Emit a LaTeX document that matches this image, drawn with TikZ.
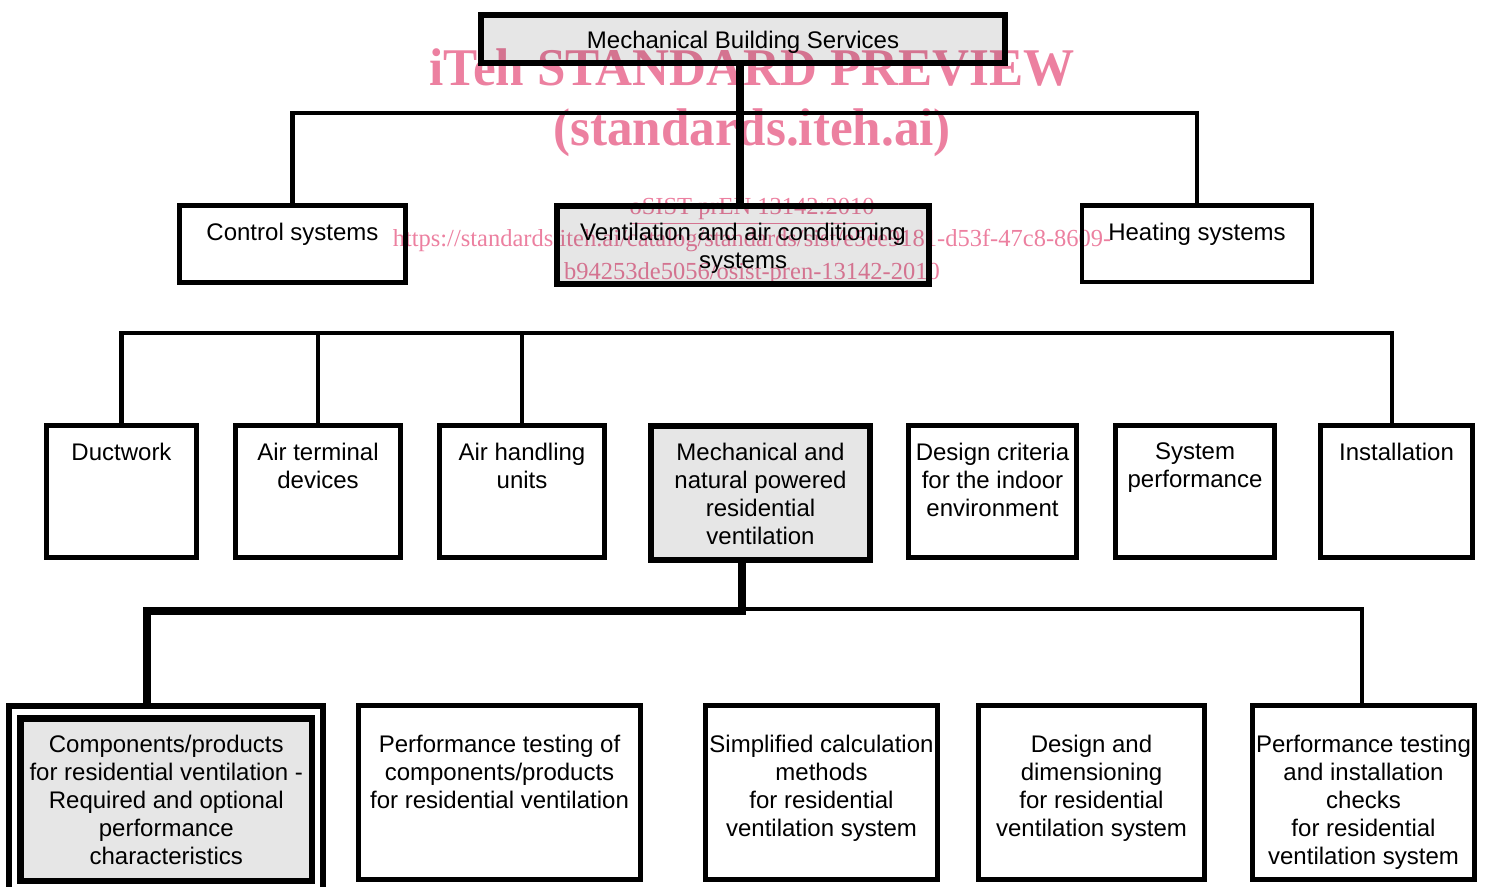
\documentclass[tikz,border=0pt]{standalone}
\usepackage{fontspec}
\usepackage{graphicx}
\setmainfont{Liberation Sans}
\newfontfamily\wmfont{Liberation Serif}
\usetikzlibrary{calc,backgrounds}
\definecolor{boxgray}{RGB}{230,230,230}
\definecolor{wmpink}{RGB}{236,128,160}
\tikzset{
 thinbox/.style={draw, line width=2.25pt, inner sep=0, outer sep=0, fill=white},
 thickbox/.style={draw, line width=3pt, inner sep=0, outer sep=0, fill=boxgray},
 thinline/.style={line width=2.1pt},
 thickline/.style={line width=4.3pt},
 boxtext/.style={inner sep=0, anchor=north, align=center, font=\fontsize{12}{14}\selectfont},
 wmbig/.style={text=wmpink, inner sep=0, anchor=base, font=\wmfont\bfseries\fontsize{26.5}{30}\selectfont},
 wmsmall/.style={text=wmpink, inner sep=0, anchor=base, font=\wmfont\fontsize{12.25}{15}\selectfont},
}
\begin{document}
\begin{tikzpicture}[x=0.5pt,y=-0.5pt]
\useasboundingbox (0,0) rectangle (1487,887);
\clip (0,0) rectangle (1487,887);

% level 1
\node[thickbox, minimum width=262pt, minimum height=24pt] (top) at (743,39) {};
\node[boxtext] (toptxt) at ($(top.north)+(0,15.5)$) {Mechanical Building Services};

% level 2
\node[thinbox, minimum width=113pt, minimum height=38.5pt] (ctrl) at (292.5,244) {};
\node[boxtext] (ctrltxt) at ($(ctrl.north)+(0,17.2)$) {Control systems};
\node[thickbox, minimum width=186pt, minimum height=39pt] (vent) at (743,245) {};
\node[boxtext] (venttxt) at ($(vent.north)+(0,16.7)$) {Ventilation and air conditioning\\systems};
\node[thinbox, minimum width=115pt, minimum height=38.25pt] (heat) at (1197,243.75) {};
\node[boxtext] (heattxt) at ($(heat.north)+(0,17.2)$) {Heating systems};

% level 3
\node[thinbox, minimum width=75pt, minimum height=66pt] (duct) at (121.5,491.5) {};
\node[boxtext] (ducttxt) at ($(duct.north)+(0,17.2)$) {Ductwork};
\node[thinbox, minimum width=82.5pt, minimum height=66pt] (airterm) at (318,491.5) {};
\node[boxtext] (airtermtxt) at ($(airterm.north)+(0,17.2)$) {Air terminal\\devices};
\node[thinbox, minimum width=82.5pt, minimum height=66pt] (airhand) at (522,491.5) {};
\node[boxtext] (airhandtxt) at ($(airhand.north)+(0,17.2)$) {Air handling\\units};
\node[thickbox, minimum width=109.5pt, minimum height=67pt] (mech) at (760.5,493) {};
\node[boxtext] (mechtxt) at ($(mech.north)+(0,16.7)$) {Mechanical and\\natural powered\\residential\\ventilation};
\node[thinbox, minimum width=84pt, minimum height=66pt] (dcrit) at (992.5,491.5) {};
\node[boxtext] (dcrittxt) at ($(dcrit.north)+(0,17.2)$) {Design criteria\\for the indoor\\environment};
\node[thinbox, minimum width=79.5pt, minimum height=66pt] (sysperf) at (1195,491.5) {};
\node[boxtext] (sysperftxt) at ($(sysperf.north)+(0,17.2)$) {System\\performance};
\node[thinbox, minimum width=76pt, minimum height=66pt] (install) at (1396.5,491.5) {};
\node[boxtext] (installtxt) at ($(install.north)+(0,17.2)$) {Installation};

% level 4
\node[draw, line width=3pt, inner sep=0, outer sep=0, fill=white, minimum width=157pt, minimum height=147pt] (compouter) at (166,853) {};
\node[thickbox, line width=3.25pt, minimum width=145.75pt, minimum height=81.25pt] (compinner) at (166.25,799.75) {};
\node[boxtext] (comptxt) at ($(compinner.north)+(0,16.2)$) {Components/products\\for residential ventilation -\\Required and optional\\performance\\characteristics};
\node[thinbox, minimum width=141pt, minimum height=87pt] (perftest) at (499.5,792.5) {};
\node[boxtext] (perftesttxt) at ($(perftest.north)+(0,29.2)$) {Performance testing of\\components/products\\for residential ventilation};
\node[thinbox, minimum width=116pt, minimum height=87pt] (simpl) at (821.5,792.5) {};
\node[boxtext] (simpltxt) at ($(simpl.north)+(0,29.2)$) {Simplified calculation\\methods\\for residential\\ventilation system};
\node[thinbox, minimum width=113pt, minimum height=87pt] (designdim) at (1091.5,792.5) {};
\node[boxtext] (designdimtxt) at ($(designdim.north)+(0,29.2)$) {Design and\\dimensioning\\for residential\\ventilation system};
\node[thinbox, minimum width=111pt, minimum height=87pt] (perfinst) at (1363.5,792.5) {};
\node[boxtext] (perfinsttxt) at ($(perfinst.north)+(0,29.2)$) {Performance testing\\and installation\\checks\\for residential\\ventilation system};

% connectors
\coordinate (bus1) at (743,113);
\coordinate (bus2) at (745,333);
\coordinate (bus3) at (742,611);
\coordinate (bus3b) at (742,609);
\coordinate (compin) at (147,706);
\begin{scope}[on background layer]
\draw[thickline] ($(top.south)+(-3,0)$) -- ($(vent.north)+(-3,0)$);
\draw[thinline] (ctrl.north) |- (bus1) -| (heat.north);
\draw[thickline] ($(vent.south)+(2,0)$) -- ($(vent.south)+(2,0)$ |- mech.north);
\draw[thinline] (duct.north) |- (bus2) -| ($(install.north)+(-4.5,0)$);
\draw[thinline] (airterm.north) -- (airterm.north |- bus2);
\draw[thinline] (airhand.north) -- (airhand.north |- bus2);
\draw[thinline] ($(dcrit.north)+(1.5,0)$) -- ($(dcrit.north)+(1.5,0)$ |- bus2);
\draw[thinline] ($(sysperf.north)+(-9,0)$) -- ($(sysperf.north)+(-9,0)$ |- bus2);
\draw[thickline] (mech.south -| bus3) -- (bus3) -| (compin);
\draw[thinline] (bus3b) -| ($(perfinst.north)+(-1.5,0)$);
\draw[thinline] ($(perftest.north)+(-27.5,0)$) -- ($(perftest.north)+(-27.5,0)$ |- bus3);
\draw[thinline] ($(simpl.north)+(-23.5,0)$) -- ($(simpl.north)+(-23.5,0)$ |- bus3b);
\draw[thinline] ($(designdim.north)+(-18.5,0)$) -- ($(designdim.north)+(-18.5,0)$ |- bus3b);
\end{scope}

% watermark
\begin{scope}[blend mode=multiply]
\node[wmbig] (wm1) at (752,86) {\scalebox{0.965}[1]{iTeh STANDARD PREVIEW}};
\node[wmbig] (wm2) at (752,146) {\scalebox{0.965}[1]{(standards.iteh.ai)}};
\node[wmsmall] (wm3) at (752,215) {\underline{oSIST prEN 13142:2010}};
\node[wmsmall] (wm4) at (752,247) {https://standards.iteh.ai/catalog/standards/sist/e5ee9181-d53f-47c8-8609-};
\node[wmsmall] (wm5) at (752,280) {b94253de5056/osist-pren-13142-2010};
\end{scope}
\end{tikzpicture}
\end{document}
